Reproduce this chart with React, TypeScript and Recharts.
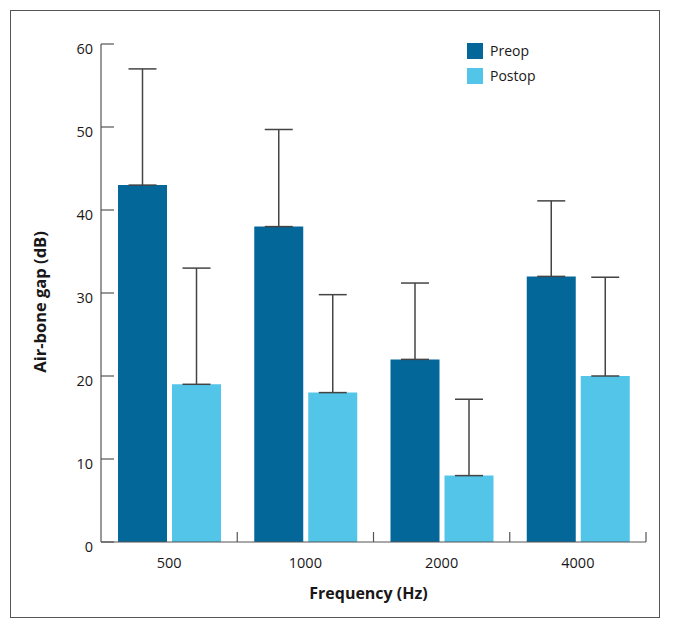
import React from 'react';
import { BarChart, Bar, XAxis, YAxis, ErrorBar, Legend, ReferenceLine } from 'recharts';

// values
const frequencies = ['500', '1000', '2000', '4000'];
const seriesNames = ['Preop', 'Postop'];
const preop = [43, 38, 22, 32];
const postop = [19, 18, 8, 20];
const preopSd = [14, 11.7, 9.2, 9.1];
const postopSd = [14, 11.8, 9.2, 11.9];
const yTicks = [0, 10, 20, 30, 40, 50, 60];

const data = frequencies.map((freq, i) => ({
  freq,
  preop: preop[i],
  postop: postop[i],
  preopErr: [0, preopSd[i]],
  postopErr: [0, postopSd[i]],
}));

const PREOP = '#03679a';
const POSTOP = '#52c5e9';
const AXIS = '#555';
const TEXT = '#1a1718';

function XTick(props: any) {
  const { x, y, payload } = props;
  return (
    <text x={x} y={y + 26} textAnchor="middle" fontSize={14.5} fill={TEXT}>
      {payload.value}
    </text>
  );
}

// short upward tick at the right edge of each category band
function BandEdge(props: any) {
  const x = props.x1;
  const bottom = Math.max(props.y1, props.y2);
  return <line x1={x} x2={x} y1={bottom} y2={bottom - 10} stroke={AXIS} strokeWidth={1.2} />;
}

function YTick(props: any) {
  const { x, y, payload } = props;
  return (
    <g>
      <line x1={x} x2={x + 13} y1={y} y2={y} stroke={AXIS} strokeWidth={1.2} />
      <text x={x - 8} y={y + 9.5} textAnchor="end" fontSize={14.5} fill={TEXT}>
        {payload.value}
      </text>
    </g>
  );
}

function LegendBox(props: any) {
  const items = [...(props.payload || [])].sort(
    (a: any, b: any) => seriesNames.indexOf(a.value) - seriesNames.indexOf(b.value)
  );
  return (
    <div>
      {items.map((it: any) => (
        <div key={it.value} style={{ display: 'flex', alignItems: 'center', height: 25, fontSize: 14, color: TEXT }}>
          <span style={{ width: 16, height: 16, background: it.color, marginRight: 7, display: 'inline-block' }} />
          {it.value}
        </div>
      ))}
    </div>
  );
}

export default function App() {
  return (
    <div style={{ position: 'relative', width: 673, height: 631, fontFamily: '"Open Sans", sans-serif' }}>
      <div
        style={{
          position: 'absolute',
          left: 2,
          top: 2,
          width: 650,
          height: 608,
          border: '1.5px solid #555',
          boxSizing: 'border-box',
        }}
      />
      <div style={{ position: 'absolute', left: -8, top: -8 }}>
        <BarChart
          width={673}
          height={631}
          data={data}
          margin={{ top: 44, right: 27, bottom: 0, left: 0 }}
          barSize={49}
          barGap={5}
        >
          <XAxis
            dataKey="freq"
            height={89}
            stroke={AXIS}
            strokeWidth={1.2}
            tickLine={false}
            tickSize={0}
            tickMargin={0}
            tick={<XTick />}
            label={{
              content: (p: any) => {
                const vb = p.viewBox;
                return (
                  <text x={vb.x + vb.width / 2 - 5} y={vb.y + 57} textAnchor="middle" fontSize={16} fontWeight={700} fill={TEXT}>
                    Frequency (Hz)
                  </text>
                );
              },
            }}
          />
          <YAxis
            width={101}
            domain={[0, 60]}
            ticks={yTicks}
            stroke={AXIS}
            strokeWidth={1.2}
            tickLine={false}
            tickSize={0}
            tickMargin={0}
            tick={<YTick />}
            label={{
              content: (p: any) => {
                const vb = p.viewBox;
                const cy = vb.y + vb.height / 2 + 9;
                return (
                  <text x={46} y={cy} transform={`rotate(-90 46 ${cy})`} textAnchor="middle" fontSize={16.5} fontWeight={700} fill={TEXT}>
                    Air-bone gap (dB)
                  </text>
                );
              },
            }}
          />
          <Legend
            layout="horizontal"
            verticalAlign="middle"
            align="center"
            content={<LegendBox />}
            wrapperStyle={{ top: 38, left: 467, width: 120 }}
          />
          {frequencies.map((f) => (
            <ReferenceLine key={f} x={f} position="end" shape={<BandEdge />} />
          ))}
          <Bar dataKey="preop" name="Preop" fill={PREOP} isAnimationActive={false}>
            <ErrorBar dataKey="preopErr" width={14} stroke="#444" strokeWidth={1.5} direction="y" isAnimationActive={false} />
          </Bar>
          <Bar dataKey="postop" name="Postop" fill={POSTOP} isAnimationActive={false}>
            <ErrorBar dataKey="postopErr" width={14} stroke="#444" strokeWidth={1.5} direction="y" isAnimationActive={false} />
          </Bar>
        </BarChart>
      </div>
    </div>
  );
}
